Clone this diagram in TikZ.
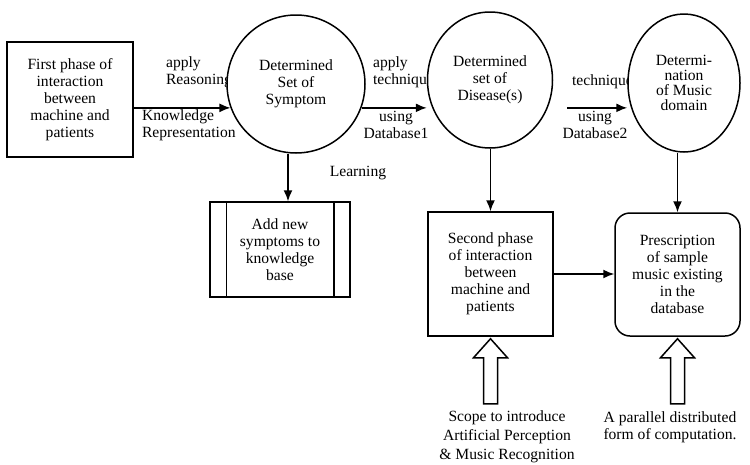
\documentclass[tikz,border=0pt]{standalone}
\usepackage{fontspec}
\setmainfont{Liberation Serif}
\usetikzlibrary{positioning,shapes.geometric,arrows.meta}

\begin{document}
\begin{tikzpicture}[x=1pt,y=-1pt,>={Latex[length=11pt,width=9pt]},line width=1.5pt,
        every node/.style={font=\fontsize{15.6}{17}\selectfont,align=center},
        box/.style={draw,fill=white,inner sep=2pt},
        state/.style={draw,fill=white,ellipse,inner sep=0pt},
        tag/.style={align=left,anchor=west}]
        \useasboundingbox (0,0) rectangle (750,464);
        \node[tag] (reason) at (162,72) {apply\\Reasoning};
        \node[tag] (repr) at (138,125) {Knowledge\\Representation};
        \node[tag] (tech1) at (369,72) {apply\\technique};
        \node (db1) at (396,125) {using\\Database1};
        \node[tag] (tech2) at (568,82) {technique};
        \node (db2) at (595,125) {using\\Database2};
        \node (learn) at (358,173) {Learning};
        \node[box,minimum width=126pt,minimum height=115pt] (first) at (70,99.5) {First phase of\\interaction\\between\\machine and\\patients};
        \node[state,minimum width=138pt,minimum height=138pt] (symptom) at (296,84) {Determined\\Set of\\Symptom};
        \node[state,minimum width=125pt,minimum height=136pt] (disease) at (490,80) {Determined\\set of\\Disease(s)};
        \node[state,minimum width=112pt,minimum height=138pt,font=\fontsize{15.6}{15}\selectfont] (music) at (684,83) {Determi-\\nation\\of Music\\domain};
        \node[box,minimum width=140pt,minimum height=95pt] (add) at (280,249.5) {Add new\\symptoms to\\knowledge\\base};
        \node[box,minimum width=125pt,minimum height=124pt] (second) at (490.5,274) {Second phase\\of interaction\\between\\machine and\\patients};
        \node[box,rounded corners=15pt,minimum width=125pt,minimum height=123pt] (presc) at (677.5,274.5) {Prescription\\of sample\\music existing\\in the\\database};
        \node[font=\fontsize{15.6}{19}\selectfont] (scope) at (507,437) {Scope to introduce\\Artificial Perception\\\& Music Recognition};
        \node (parallel) at (670,427) {A parallel distributed\\form of computation.};
        \draw ([xshift=17pt]add.north west) -- ([xshift=17pt]add.south west);
        \draw ([xshift=-17pt]add.north east) -- ([xshift=-17pt]add.south east);
        \coordinate (gap) at ([xshift=14pt]disease.east);
        \coordinate (down) at ([xshift=-8pt]symptom.south);
        \draw[->] (first.east |- symptom.200) -- (symptom.200);
        \draw[->] (symptom.-20) -- (symptom.-20 -| disease.west);
        \draw[->] (gap |- symptom.-20) -- (symptom.-20 -| music.west);
        \draw[->] (down) -- (down |- add.north);
        \draw[->] (disease.south -| second.north) -- (second.north);
        \draw[->] (music.south -| presc.north) -- (presc.north);
        \draw[->] (second.east) -- (second.east -| presc.west);
        \foreach \n in {second,presc}
            \draw (\n.south) ++(0,2) -- ++(17,19) -- ++(-10,0) -- ++(0,46) -- ++(-14,0) -- ++(0,-46) -- ++(-10,0) -- cycle;
    \end{tikzpicture}
\end{document}
